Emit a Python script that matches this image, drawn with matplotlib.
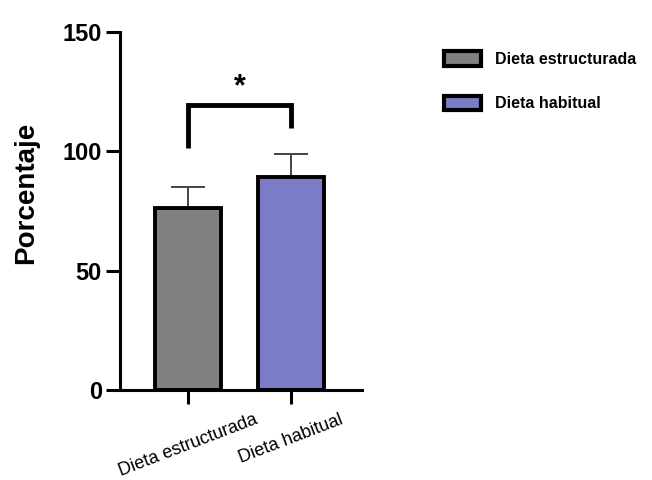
import matplotlib
matplotlib.use("Agg")
import matplotlib.pyplot as plt
from matplotlib.patches import Patch

plt.rcParams['font.family'] = ['Liberation Sans', 'DejaVu Sans']

categories = ["Dieta estructurada", "Dieta habitual"]
means = [76.2, 89.2]
err_upper = [8.8, 9.7]
colors = ["#808080", "#7b7bc6"]
yticks = [0, 50, 100, 150]
bracket_top = 119.4
bracket_left_bottom = 101.4
bracket_right_bottom = 109.8
star_y = 127.0

fig = plt.figure(figsize=(6.52, 4.8), dpi=100)
ax = fig.add_axes([120/652, 1-390/480, (362-120)/652, (390-32)/480])

x = [0, 1]
ax.bar(x, means, width=0.64, color=colors, edgecolor="black", linewidth=2.8, zorder=2)
for xi, m, e in zip(x, means, err_upper):
    ax.errorbar(xi, m, yerr=[[0], [e]], fmt="none", ecolor="#444444", elinewidth=1.4,
                capsize=12.5, capthick=1.4, zorder=1)

ax.plot([x[0], x[0], x[1], x[1]],
        [bracket_left_bottom, bracket_top, bracket_top, bracket_right_bottom],
        color="black", linewidth=3.5, solid_capstyle="butt", solid_joinstyle="miter")
ax.text(0.5, star_y, "*", ha="center", va="center", fontsize=22, fontweight="bold")

ax.set_xlim(-0.66, 1.69)
ax.set_ylim(0, 150)
ax.set_yticks(yticks)
ax.set_yticklabels([str(t) for t in yticks], fontsize=17, fontweight="bold")
ax.set_xticks(x)
ax.set_xticklabels(categories, rotation=21, fontsize=13, ha="center", va="top")
ax.set_ylabel("Porcentaje", fontsize=20, fontweight="bold")
ax.yaxis.set_label_coords(-0.335, 0.55)

for s in ["top", "right"]:
    ax.spines[s].set_visible(False)
for s in ["left", "bottom"]:
    ax.spines[s].set_linewidth(2.2)
ax.tick_params(axis="both", width=2.2, length=10, direction="out")
ax.tick_params(axis="y", pad=3)
ax.tick_params(axis="x", pad=5)

handles = [Patch(facecolor=c, edgecolor="black", linewidth=3) for c in colors]
fig.legend(handles, categories, loc="upper left", bbox_to_anchor=(430/652, 1-37/480),
           frameon=False, handlelength=2.3, handleheight=1.0,
           labelspacing=1.8, handletextpad=0.9, prop={"weight": "bold", "size": 11.5})

fig.savefig("out.png", dpi=100)
